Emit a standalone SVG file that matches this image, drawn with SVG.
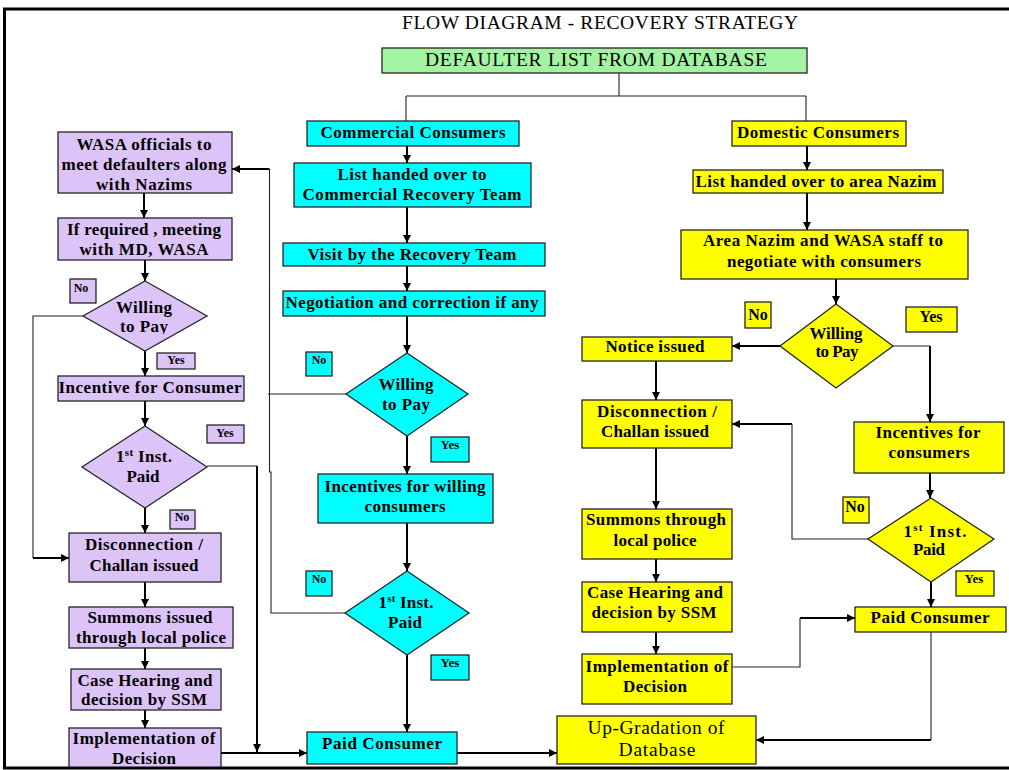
<svg xmlns="http://www.w3.org/2000/svg" width="1009" height="770" viewBox="0 0 1009 770">
<defs>
  <marker id="arr" markerUnits="userSpaceOnUse" markerWidth="9" markerHeight="9" refX="8" refY="4" orient="auto">
    <path d="M0,0 L8,4 L0,8 z" fill="#000"/>
  </marker>
  <clipPath id="clipPay"><rect x="80" y="280" width="130" height="54"/></clipPath>
</defs>
<style>
  .box{stroke:#262626;stroke-width:1.3}
  .lav{fill:#dcc4f8}
  .cy{fill:#00ffff}
  .ye{fill:#ffff00}
  .gr{fill:#a2f4a2}
  text{font-family:"Liberation Serif","Times New Roman",serif;font-weight:bold;font-size:17px;text-anchor:middle;fill:#000}
  .reg{font-weight:normal;font-size:19.5px}
  .s12{font-size:12px}
  .s13{font-size:13px}
  .s16{font-size:16px}
  .sup{font-size:11px}
  .c{fill:none;stroke:#000;stroke-width:2}
  .t{fill:none;stroke:#222;stroke-width:1.1}
  .a{marker-end:url(#arr)}
</style>

<rect x="0" y="0" width="1009" height="770" fill="#fff"/>

<!-- heading -->
<g id="title">
  <text class="reg" x="600" y="29" textLength="396">FLOW DIAGRAM - RECOVERY STRATEGY</text>
</g>

<!-- connectors -->
<g id="connectors">
  <!-- split from the defaulter list -->
  <path class="t" d="M619,73 V96 M406,96 H806 M406,96 V121 M806,96 V121"/>

  <!-- commercial column -->
  <path class="c a" d="M407,146 V163"/>
  <path class="c a" d="M407,207 V243"/>
  <path class="c a" d="M407,266 V291"/>
  <path class="c a" d="M407,316 V353"/>
  <path class="c a" d="M407,436 V474"/>
  <path class="c a" d="M407,523 V571"/>
  <path class="c a" d="M407,655 V732"/>
  <path class="c a" d="M457,753 H557"/>
  <path class="t" d="M346,394 H268"/>
  <path class="t" d="M345,613 H271 V472 H269.5 V169"/>
  <path class="c a" d="M269.5,169 H232"/>

  <!-- WASA column -->
  <path class="c a" d="M144,193 V218"/>
  <path class="c a" d="M145,260 V281"/>
  <path class="c a" d="M145,351 V376"/>
  <path class="c a" d="M145,401 V426"/>
  <path class="c a" d="M145,508 V533"/>
  <path class="c a" d="M145,582 V607"/>
  <path class="c a" d="M145,648 V669"/>
  <path class="c a" d="M145,710 V728"/>
  <path class="c a" d="M221,753 H307"/>
  <path class="t" d="M83,316 H33 V558"/>
  <path class="c a" d="M33,558 H69"/>
  <path class="t" d="M207,466 H257"/>
  <path class="c a" d="M257,466 V752"/>

  <!-- domestic column -->
  <path class="c a" d="M807,146 V170"/>
  <path class="c a" d="M807,193 V230"/>
  <path class="c a" d="M836,279 V304"/>
  <path class="c a" d="M780,346 H732"/>
  <path class="t" d="M893,346 H930"/>
  <path class="c a" d="M930,346 V422"/>
  <path class="c a" d="M656,361 V400"/>
  <path class="c a" d="M656,448 V509"/>
  <path class="c a" d="M656,559 V582"/>
  <path class="c a" d="M656,632 V654"/>
  <path class="t" d="M732,667 H800 V618"/>
  <path class="c a" d="M800,618 H855"/>
  <path class="c a" d="M930,473 V498"/>
  <path class="t" d="M868,539 H792 V424"/>
  <path class="c a" d="M792,424 H732"/>
  <path class="c a" d="M931,582 V607"/>
  <path class="t" d="M931,632 V740"/>
  <path class="c a" d="M931,740 H756"/>
</g>

<!-- source -->
<g id="n-defaulter">
  <rect class="box gr" x="382" y="48" width="425" height="25"/>
  <text class="reg" x="596" y="66" textLength="342">DEFAULTER LIST FROM DATABASE</text>
</g>

<!-- commercial consumers (cyan) -->
<g id="n-commercial">
  <rect class="box cy" x="307" y="121" width="212" height="25"/>
  <text x="413" y="138" textLength="185">Commercial Consumers</text>
</g>
<g id="n-list-commercial">
  <rect class="box cy" x="294" y="163" width="237" height="44"/>
  <text x="412" y="180" textLength="149">List handed over to</text>
  <text x="412" y="200" textLength="219">Commercial Recovery Team</text>
</g>
<g id="n-visit">
  <rect class="box cy" x="283" y="243" width="262" height="23"/>
  <text x="412" y="260" textLength="209">Visit by the Recovery Team</text>
</g>
<g id="n-negotiation">
  <rect class="box cy" x="283" y="291" width="262" height="25"/>
  <text x="412" y="308" textLength="253">Negotiation and correction if any</text>
</g>
<g id="n-willing-c">
  <polygon class="box cy" points="407,353 468,394 407,436 346,394"/>
  <text x="406" y="390" textLength="55">Willing</text>
  <text x="406" y="410" textLength="48">to Pay</text>
</g>
<g id="l-no-c1">
  <rect class="box cy" x="306" y="352" width="26" height="24"/>
  <text class="s12" x="319" y="364">No</text>
</g>
<g id="l-yes-c1">
  <rect class="box cy" x="431" y="437" width="38" height="25"/>
  <text class="s13" x="450" y="449">Yes</text>
</g>
<g id="n-incentives-c">
  <rect class="box cy" x="318" y="474" width="175" height="49"/>
  <text x="405" y="492" textLength="161">Incentives for willing</text>
  <text x="405" y="512" textLength="81">consumers</text>
</g>
<g id="n-inst-c">
  <polygon class="box cy" points="407,571 469,613 407,655 345,613"/>
  <text x="406" y="608" textLength="55">1<tspan class="sup" dy="-6">st</tspan><tspan dy="6"> Inst.</tspan></text>
  <text x="405" y="628" textLength="34">Paid</text>
</g>
<g id="l-no-c2">
  <rect class="box cy" x="306" y="571" width="26" height="25"/>
  <text class="s12" x="319" y="583">No</text>
</g>
<g id="l-yes-c2">
  <rect class="box cy" x="431" y="655" width="38" height="25"/>
  <text class="s13" x="450" y="667">Yes</text>
</g>
<g id="n-paid-c">
  <rect class="box cy" x="307" y="732" width="150" height="32"/>
  <text x="382" y="749" textLength="120">Paid Consumer</text>
</g>

<!-- domestic consumers (yellow) -->
<g id="n-domestic">
  <rect class="box ye" x="732" y="121" width="174" height="25"/>
  <text x="818" y="138" textLength="162">Domestic Consumers</text>
</g>
<g id="n-list-domestic">
  <rect class="box ye" x="693" y="170" width="250" height="23"/>
  <text x="816" y="187" textLength="241">List handed over to area Nazim</text>
</g>
<g id="n-area">
  <rect class="box ye" x="681" y="230" width="287" height="49"/>
  <text x="823" y="246" textLength="240">Area Nazim and WASA staff to</text>
  <text x="824" y="267" textLength="194">negotiate with consumers</text>
</g>
<g id="n-willing-y">
  <polygon class="box ye" points="836,304 893,346 836,388 780,346"/>
  <text x="836" y="339" textLength="53">Willing</text>
  <text x="837" y="357" textLength="43">to Pay</text>
</g>
<g id="l-no-y1">
  <rect class="box ye" x="745" y="302" width="26" height="26"/>
  <text class="s16" x="758" y="320">No</text>
</g>
<g id="l-yes-y1">
  <rect class="box ye" x="906" y="307" width="51" height="25"/>
  <text class="s16" x="931" y="322">Yes</text>
</g>
<g id="n-notice">
  <rect class="box ye" x="582" y="337" width="150" height="24"/>
  <text x="655" y="352" textLength="99">Notice issued</text>
</g>
<g id="n-disc-y">
  <rect class="box ye" x="582" y="400" width="150" height="48"/>
  <text x="657" y="417" textLength="120">Disconnection /</text>
  <text x="655" y="437" textLength="108">Challan issued</text>
</g>
<g id="n-incentives-y">
  <rect class="box ye" x="854" y="422" width="150" height="51"/>
  <text x="928" y="438" textLength="105">Incentives for</text>
  <text x="929" y="458" textLength="81">consumers</text>
</g>
<g id="n-inst-y">
  <polygon class="box ye" points="931,498 994,539 931,582 868,539"/>
  <text x="935" y="537" textLength="63">1<tspan class="sup" dy="-6">st</tspan><tspan dy="6"> Inst.</tspan></text>
  <text x="929" y="555" textLength="32">Paid</text>
</g>
<g id="l-no-y2">
  <rect class="box ye" x="843" y="497" width="26" height="26"/>
  <text class="s16" x="855" y="512">No</text>
</g>
<g id="l-yes-y2">
  <rect class="box ye" x="956" y="571" width="38" height="25"/>
  <text class="s13" x="974" y="583">Yes</text>
</g>
<g id="n-summons-y">
  <rect class="box ye" x="582" y="509" width="150" height="50"/>
  <text x="656" y="525" textLength="140">Summons through</text>
  <text x="655" y="546" textLength="83">local police</text>
</g>
<g id="n-case-y">
  <rect class="box ye" x="582" y="582" width="150" height="50"/>
  <text x="655" y="598" textLength="136">Case Hearing and</text>
  <text x="654" y="618" textLength="125">decision by SSM</text>
</g>
<g id="n-impl-y">
  <rect class="box ye" x="582" y="654" width="150" height="50"/>
  <text x="657" y="672" textLength="143">Implementation of</text>
  <text x="655" y="692" textLength="64">Decision</text>
</g>
<g id="n-paid-y">
  <rect class="box ye" x="855" y="607" width="151" height="25"/>
  <text x="930" y="623" textLength="119">Paid Consumer</text>
</g>
<g id="n-upgrade">
  <rect class="box ye" x="557" y="716" width="199" height="48"/>
  <text class="reg" x="656" y="734" textLength="137">Up-Gradation of</text>
  <text class="reg" x="657" y="756" textLength="77">Database</text>
</g>

<!-- WASA follow-up (lavender) -->
<g id="n-wasa">
  <rect class="box lav" x="58" y="132" width="174" height="61"/>
  <text x="144" y="150" textLength="135">WASA officials to</text>
  <text x="144" y="170" textLength="165">meet defaulters along</text>
  <text x="144" y="190" textLength="96">with Nazims</text>
</g>
<g id="n-md">
  <rect class="box lav" x="58" y="218" width="174" height="42"/>
  <text x="144" y="235" textLength="154">If required , meeting</text>
  <text x="144" y="255" textLength="129">with MD, WASA</text>
</g>
<g id="n-willing-l">
  <polygon class="box lav" points="145,281 207,316 145,351 83,316"/>
  <text x="144" y="313" textLength="56">Willing</text>
  <text x="144" y="332" textLength="48" clip-path="url(#clipPay)">to Pay</text>
</g>
<g id="l-no-l1">
  <rect class="box lav" x="70" y="279" width="26" height="24"/>
  <text class="s12" x="81" y="292">No</text>
</g>
<g id="l-yes-l1">
  <rect class="box lav" x="157" y="353" width="38" height="16"/>
  <text class="s12" x="176" y="364">Yes</text>
</g>
<g id="n-incentive-l">
  <rect class="box lav" x="58" y="376" width="186" height="25"/>
  <text x="150" y="393" textLength="183">Incentive for Consumer</text>
</g>
<g id="n-inst-l">
  <polygon class="box lav" points="145,426 207,467 145,508 82,467"/>
  <text x="144" y="462" textLength="56">1<tspan class="sup" dy="-6">st</tspan><tspan dy="6"> Inst.</tspan></text>
  <text x="143" y="482" textLength="33">Paid</text>
</g>
<g id="l-yes-l2">
  <rect class="box lav" x="207" y="425" width="37" height="18"/>
  <text class="s12" x="225" y="437">Yes</text>
</g>
<g id="l-no-l2">
  <rect class="box lav" x="170" y="510" width="25" height="19"/>
  <text class="s12" x="182" y="521">No</text>
</g>
<g id="n-disc-l">
  <rect class="box lav" x="69" y="533" width="152" height="49"/>
  <text x="144" y="550" textLength="118">Disconnection /</text>
  <text x="144" y="571" textLength="109">Challan issued</text>
</g>
<g id="n-summons-l">
  <rect class="box lav" x="69" y="607" width="164" height="41"/>
  <text x="150" y="623" textLength="125">Summons issued</text>
  <text x="151" y="643" textLength="150">through local police</text>
</g>
<g id="n-case-l">
  <rect class="box lav" x="71" y="669" width="150" height="41"/>
  <text x="145" y="686" textLength="135">Case Hearing and</text>
  <text x="144" y="705" textLength="126">decision by SSM</text>
</g>
<g id="n-impl-l">
  <rect class="box lav" x="69" y="728" width="152" height="40"/>
  <text x="144" y="744" textLength="143">Implementation of</text>
  <text x="144" y="764" textLength="64">Decision</text>
</g>

<!-- page frame -->
<rect x="4.5" y="9" width="1012" height="759" fill="none" stroke="#000" stroke-width="3"/>
</svg>
